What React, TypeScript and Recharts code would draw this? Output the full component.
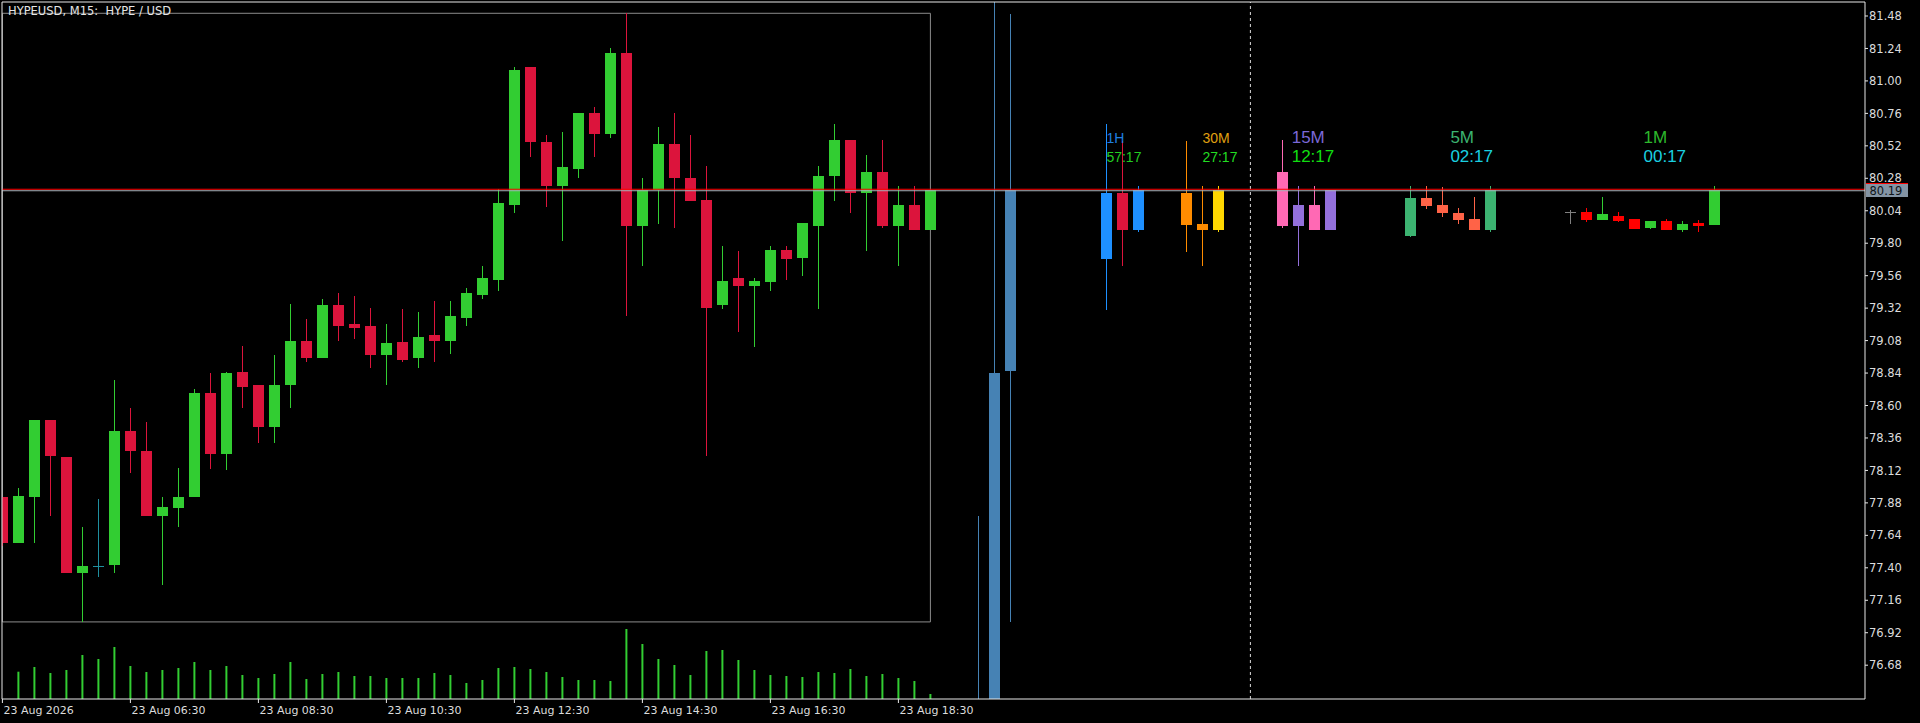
import {
  ComposedChart,
  Bar,
  Scatter,
  XAxis,
  YAxis,
  ReferenceLine,
  ReferenceArea,
} from "recharts";

type Ohlc = [number, number, number, number]; // open, high, low, close

// M15 candles, 04:30 .. 19:00
const m15Candles: Ohlc[] = [
  [77.92, 77.92, 77.56, 77.58],
  [77.58, 77.99, 77.58, 77.93],
  [77.92, 78.49, 77.58, 78.49],
  [78.49, 78.49, 77.78, 78.23],
  [78.22, 78.22, 77.36, 77.36],
  [77.36, 77.7, 77.0, 77.41],
  [77.41, 77.91, 77.33, 77.41],
  [77.42, 78.79, 77.36, 78.41],
  [78.41, 78.58, 78.1, 78.26],
  [78.26, 78.48, 77.78, 77.78],
  [77.78, 77.92, 77.27, 77.85],
  [77.84, 78.14, 77.7, 77.92],
  [77.92, 78.72, 77.92, 78.69],
  [78.69, 78.84, 78.13, 78.24],
  [78.24, 78.85, 78.12, 78.84],
  [78.85, 79.04, 78.58, 78.74],
  [78.75, 78.75, 78.32, 78.44],
  [78.44, 78.97, 78.32, 78.75],
  [78.75, 79.35, 78.58, 79.08],
  [79.08, 79.24, 78.92, 78.95],
  [78.95, 79.39, 78.95, 79.34],
  [79.34, 79.43, 79.08, 79.19],
  [79.2, 79.41, 79.09, 79.17],
  [79.19, 79.32, 78.88, 78.97],
  [78.97, 79.2, 78.75, 79.06],
  [79.07, 79.31, 78.92, 78.94],
  [78.95, 79.29, 78.88, 79.11],
  [79.12, 79.37, 78.92, 79.08],
  [79.08, 79.37, 78.98, 79.26],
  [79.25, 79.47, 79.19, 79.43],
  [79.42, 79.63, 79.39, 79.54],
  [79.53, 80.2, 79.45, 80.1],
  [80.08, 81.1, 80.02, 81.08],
  [81.1, 81.1, 80.44, 80.55],
  [80.55, 80.6, 80.07, 80.22],
  [80.22, 80.62, 79.82, 80.36],
  [80.35, 80.76, 80.28, 80.76],
  [80.76, 80.81, 80.44, 80.61],
  [80.61, 81.24, 80.58, 81.21],
  [81.21, 81.5, 79.26, 79.93],
  [79.93, 80.28, 79.63, 80.19],
  [80.19, 80.66, 79.94, 80.53],
  [80.53, 80.76, 79.91, 80.28],
  [80.28, 80.6, 80.11, 80.11],
  [80.12, 80.37, 78.23, 79.32],
  [79.34, 79.78, 79.31, 79.52],
  [79.54, 79.74, 79.14, 79.48],
  [79.48, 79.54, 79.03, 79.52],
  [79.51, 79.78, 79.45, 79.75],
  [79.75, 79.78, 79.53, 79.68],
  [79.69, 79.95, 79.56, 79.95],
  [79.93, 80.37, 79.31, 80.3],
  [80.3, 80.68, 80.11, 80.56],
  [80.56, 80.56, 80.02, 80.17],
  [80.17, 80.45, 79.74, 80.33],
  [80.33, 80.56, 79.91, 79.93],
  [79.93, 80.22, 79.63, 80.08],
  [80.08, 80.22, 79.9, 79.9],
  [79.9, 80.19, 79.9, 80.19],
];

// tick volumes of the M15 bars (first bar is cut off, no volume shown)
const m15Volumes: (number | null)[] = [
  null, 273, 320, 260, 290, 440, 400, 520, 330, 270, 290, 310, 370, 290, 330,
  240, 210, 250, 370, 200, 250, 270, 230, 230, 210, 210, 210, 260, 240, 160,
  190, 310, 320, 300, 270, 220, 190, 190, 180, 700, 550, 400, 340, 240, 480,
  490, 390, 290, 240, 230, 220, 270, 260, 300, 230, 250, 210, 180, 50,
];

// higher / lower timeframe candles drawn by the indicator on the right
const d1Candles: Ohlc[] = [
  [75.95, 77.78, 75.2, 76.2],
  [76.1, 81.75, 75.8, 78.843],
  [78.856, 81.496, 77.0, 80.193],
];
const h1Candles: Ohlc[] = [
  [79.685, 80.681, 79.308, 80.171],
  [80.171, 80.555, 79.633, 79.897],
  [79.897, 80.223, 79.885, 80.193],
];
const m30Candles: Ohlc[] = [
  [80.169, 80.555, 79.737, 79.934],
  [79.94, 80.223, 79.633, 79.897],
  [79.897, 80.223, 79.885, 80.193],
];
const m5Candles: Ohlc[] = [
  [79.855, 80.223, 79.843, 80.132],
  [80.132, 80.223, 80.052, 80.077],
  [80.08, 80.215, 79.991, 80.021],
  [80.021, 80.058, 79.944, 79.973],
  [79.979, 80.141, 79.899, 79.899],
  [79.899, 80.223, 79.885, 80.193],
];
const m1Candles: Ohlc[] = [
  [80.03, 80.045, 79.942, 80.03],
  [80.03, 80.06, 79.956, 79.971],
  [79.971, 80.141, 79.971, 80.016],
  [80.001, 80.03, 79.956, 79.964],
  [79.979, 79.979, 79.905, 79.905],
  [79.912, 79.964, 79.905, 79.964],
  [79.964, 79.979, 79.897, 79.897],
  [79.897, 79.964, 79.883, 79.942],
  [79.949, 79.971, 79.883, 79.927],
  [79.934, 80.223, 79.934, 80.193],
];

const tfNames = ["1H", "30M", "15M", "5M", "1M"];
const tfTimers = ["57:17", "27:17", "12:17", "02:17", "00:17"];

const timeLabels = [
  "23 Aug 2026",
  "23 Aug 06:30",
  "23 Aug 08:30",
  "23 Aug 10:30",
  "23 Aug 12:30",
  "23 Aug 14:30",
  "23 Aug 16:30",
  "23 Aug 18:30",
];

const priceTicks = [
  81.48, 81.24, 81.0, 80.76, 80.52, 80.28, 80.04, 79.8, 79.56, 79.32, 79.08,
  78.84, 78.6, 78.36, 78.12, 77.88, 77.64, 77.4, 77.16, 76.92, 76.68,
];

const bidPrice = 80.19;
const markerPrice = 80.199;

// ---- layout & style ----
const X_MIN = -0.025;
const X_MAX = X_MIN + 1863 / 16;
const Y_MAX = 81.5835;
const Y_MIN = 76.43;
const VOL_MAX = 6970;
const LABEL_PRICE = 80.54;
const SEPARATOR_SLOT = 78;
const BARS_PER_TIME_LABEL = 8;

const palettes: Record<string, { bull: string; bear: string; doji: string }> = {
  m15: { bull: "#32CD32", bear: "#DC143C", doji: "#1F8F9F" },
  d1: { bull: "#4682B4", bear: "#4682B4", doji: "#4682B4" },
  h1: { bull: "#1E90FF", bear: "#DC143C", doji: "#1E90FF" },
  m30: { bull: "#FFD700", bear: "#FF8C00", doji: "#FFD700" },
  m15b: { bull: "#9370DB", bear: "#FF69B4", doji: "#9370DB" },
  m5: { bull: "#3CB371", bear: "#FF6347", doji: "#3CB371" },
  m1: { bull: "#32CD32", bear: "#FF0000", doji: "#808080" },
};

const groups = [
  { tf: "d1", candles: d1Candles, firstSlot: 61 },
  { tf: "h1", candles: h1Candles, firstSlot: 69 },
  { tf: "m30", candles: m30Candles, firstSlot: 74 },
  { tf: "m15b", candles: m15Candles.slice(-4), firstSlot: 80 },
  { tf: "m5", candles: m5Candles, firstSlot: 88 },
  { tf: "m1", candles: m1Candles, firstSlot: 98 },
];

const labelLayout = [
  { slot: 69.0, size: 14, nameColor: "#1E7FE0", timerColor: "#22CC22" },
  { slot: 75.0, size: 14, nameColor: "#E0A010", timerColor: "#22DD22" },
  { slot: 80.58, size: 17, nameColor: "#7B68D8", timerColor: "#11DD11" },
  { slot: 90.5, size: 17, nameColor: "#3CB371", timerColor: "#1AD0E0" },
  { slot: 102.57, size: 17, nameColor: "#2DB82D", timerColor: "#1AD0E0" },
];

type Row = {
  slot: number;
  volume?: number | null;
  candle?: { ohlc: Ohlc; tf: string };
};

const rows: Row[] = [];
m15Candles.forEach((ohlc, i) =>
  rows.push({ slot: i, volume: m15Volumes[i], candle: { ohlc, tf: "m15" } })
);
groups.forEach((g) =>
  g.candles.forEach((ohlc, k) =>
    rows.push({ slot: g.firstSlot + k, candle: { ohlc, tf: g.tf } })
  )
);

const labelRows = labelLayout.map((l, k) => ({
  ...l,
  price: LABEL_PRICE,
  name: tfNames[k],
  timer: tfTimers[k],
}));

const rangeHigh = Math.max(...m15Candles.map((c) => c[1]));
const rangeLow = Math.min(...m15Candles.map((c) => c[2]));
const timeTicks = timeLabels.map((_, k) => k * BARS_PER_TIME_LABEL);

const AXIS = "#E8E8E8";
const TEXT = "#DCDCDC";
const MONO = "DejaVu Sans, Verdana, sans-serif";
const SANS = "Liberation Sans, Arial, sans-serif";

function CandleShape(props: any) {
  const { x, y, width, height, payload } = props;
  const c = payload?.candle;
  if (!c || !Number.isFinite(y) || !Number.isFinite(height)) return <g />;
  const [o, h, l, cl] = c.ohlc as Ohlc;
  const colors = palettes[c.tf];
  const top = Math.min(y, y + height);
  const bottom = Math.max(y, y + height);
  const perUnit = h > l ? (bottom - top) / (h - l) : 0;
  const toY = (p: number) => top + (h - p) * perUnit;
  const cx = x + width / 2;
  const color = o === cl ? colors.doji : cl > o ? colors.bull : colors.bear;
  const bodyTop = toY(Math.max(o, cl));
  const bodyBottom = toY(Math.min(o, cl));
  return (
    <g shapeRendering="crispEdges">
      <rect x={cx - 0.5} y={top} width={1} height={Math.max(1, bottom - top)} fill={color} />
      <rect
        x={cx - 5.5}
        y={bodyTop}
        width={11}
        height={Math.max(1, bodyBottom - bodyTop)}
        fill={color}
      />
    </g>
  );
}

function TfLabel(props: any) {
  const { cx, cy, payload } = props;
  if (!Number.isFinite(cx) || !Number.isFinite(cy)) return <g />;
  return (
    <g fontFamily={SANS} fontSize={payload.size}>
      <text x={cx} y={cy} fill={payload.nameColor}>
        {payload.name}
      </text>
      <text x={cx} y={cy + 19} fill={payload.timerColor}>
        {payload.timer}
      </text>
    </g>
  );
}

function TimeTick(props: any) {
  const { x, y, payload } = props;
  const k = timeTicks.indexOf(payload.value);
  return (
    <text x={x + 1} y={y} dy="0.8em" fill={TEXT} fontSize={11} fontFamily={MONO}>
      {timeLabels[k] ?? ""}
    </text>
  );
}

function PriceTick(props: any) {
  const { x, y, payload } = props;
  return (
    <text x={x - 1} y={y} dy="0.36em" fill={TEXT} fontSize={11.5} fontFamily={MONO}>
      {Number(payload.value).toFixed(2)}
    </text>
  );
}

function PriceTag(props: any) {
  const vb = props.viewBox;
  if (!vb) return null;
  const left = vb.x + vb.width + 0.5;
  const y = vb.y;
  return (
    <g shapeRendering="crispEdges">
      <rect x={left} y={y - 7.5} width={42} height={14} fill="#8494A4" />
      <rect x={left} y={y - 8} width={42} height={1.5} fill="#FF0000" />
      <text
        x={left + 4}
        y={y}
        dy="0.36em"
        fill="#101418"
        fontSize={11.5}
        fontFamily={MONO}
      >
        {bidPrice.toFixed(2)}
      </text>
    </g>
  );
}

export default function App() {
  return (
    <div
      style={{
        position: "absolute",
        left: 0,
        top: 0,
        width: 1920,
        height: 723,
        background: "#000",
        overflow: "hidden",
      }}
    >
      <ComposedChart
        width={1920}
        height={723}
        data={rows}
        margin={{ top: 2, right: 0, bottom: 0, left: 2 }}
      >
        <XAxis
          xAxisId="px"
          dataKey="slot"
          type="number"
          domain={[X_MIN, X_MAX]}
          allowDataOverflow
          ticks={timeTicks}
          interval={0}
          tick={<TimeTick />}
          tickSize={4}
          tickLine={{ stroke: AXIS }}
          axisLine={{ stroke: AXIS }}
          height={24}
        />
        <XAxis
          xAxisId="vol"
          dataKey="slot"
          type="number"
          domain={[X_MIN, X_MAX]}
          allowDataOverflow
          hide
        />
        <YAxis
          yAxisId="px"
          orientation="right"
          type="number"
          domain={[Y_MIN, Y_MAX]}
          allowDataOverflow
          ticks={priceTicks}
          interval={0}
          tick={<PriceTick />}
          tickSize={3}
          tickLine={{ stroke: AXIS }}
          axisLine={{ stroke: AXIS }}
          width={55}
        />
        <YAxis yAxisId="vol" type="number" domain={[0, VOL_MAX]} allowDataOverflow hide />

        <ReferenceArea
          xAxisId="px"
          yAxisId="px"
          x1={0}
          x2={m15Candles.length - 1}
          y1={rangeLow}
          y2={rangeHigh}
          fill="none"
          stroke="#8C8C8C"
          strokeWidth={1}
        />

        <Bar
          xAxisId="vol"
          yAxisId="vol"
          dataKey="volume"
          barSize={2}
          fill="#32CD32"
          isAnimationActive={false}
        />

        <Bar
          xAxisId="px"
          yAxisId="px"
          dataKey={(r: Row) => (r.candle ? [r.candle.ohlc[2], r.candle.ohlc[1]] : undefined)}
          barSize={12}
          shape={<CandleShape />}
          isAnimationActive={false}
        />

        <ReferenceLine
          xAxisId="px"
          yAxisId="px"
          x={SEPARATOR_SLOT}
          stroke="#D8D8D8"
          strokeDasharray="3 3"
        />
        <ReferenceLine xAxisId="px" yAxisId="px" y={markerPrice} stroke="#FF0000" />
        <ReferenceLine
          xAxisId="px"
          yAxisId="px"
          y={bidPrice - 0.002}
          stroke="#A8B0B8"
          label={<PriceTag />}
        />

        <Scatter
          xAxisId="px"
          yAxisId="px"
          data={labelRows}
          dataKey="price"
          shape={<TfLabel />}
          isAnimationActive={false}
        />

        <ReferenceLine xAxisId="px" yAxisId="px" y={Y_MAX} stroke={AXIS} />
        <ReferenceLine xAxisId="px" yAxisId="px" x={X_MIN} stroke={AXIS} />
      </ComposedChart>
      <div
        style={{
          position: "absolute",
          left: 8,
          top: 5,
          fontFamily: MONO,
          fontSize: 11.5,
          lineHeight: "12px",
          color: "#E6E6E6",
          whiteSpace: "pre",
        }}
      >
        HYPEUSD, M15:  HYPE / USD
      </div>
    </div>
  );
}
